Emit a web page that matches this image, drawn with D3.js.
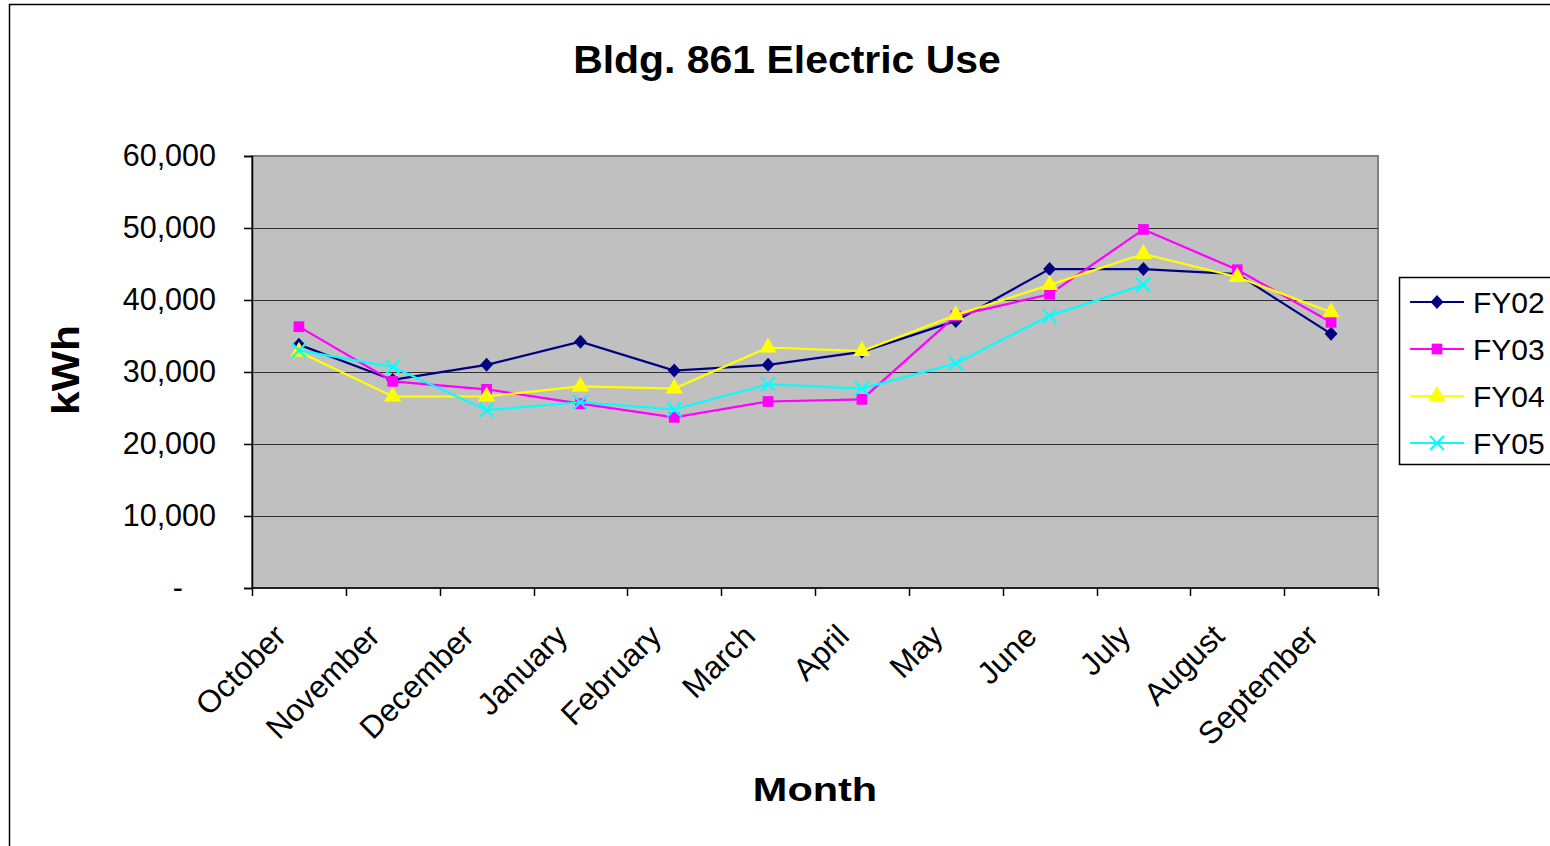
<!DOCTYPE html>
<html>
<head>
<meta charset="utf-8">
<script src="https://cdn.jsdelivr.net/npm/d3@7"></script>
<style>
  html, body { margin: 0; padding: 0; background: #fff; }
  svg { display: block; }
  text { font-family: "Liberation Sans", Arial, sans-serif; fill: #000; }
</style>
</head>
<body>
<svg id="chart" width="1550" height="846"></svg>
<script>
// Monthly electric use, fiscal year runs October → September
const months = ["October", "November", "December", "January", "February", "March",
                "April", "May", "June", "July", "August", "September"];
const seriesNames = ["FY02", "FY03", "FY04", "FY05"];
const fy02 = [33800, 28900, 31000, 34200, 30200, 31000, 32800, 37100, 44300, 44300, 43600, 35300];
const fy03 = [36300, 28700, 27600, 25600, 23700, 25900, 26200, 37800, 40800, 49800, 44200, 36900];
const fy04 = [32800, 26600, 26600, 28000, 27700, 33400, 32900, 37900, 42100, 46400, 43200, 38300];
const fy05 = [33000, 30700, 24700, 25800, 24800, 28300, 27700, 31200, 37800, 42100];
const yTicks = [0, 10000, 20000, 30000, 40000, 50000, 60000];

const seriesValues = [fy02, fy03, fy04, fy05];
const colors = ["#000080", "#FF00FF", "#FFFF00", "#00FFFF"];

// a nearly square diamond, slightly taller than wide
const squatDiamond = {
  draw(ctx, size) {
    const h = Math.sqrt(size / 2);
    const w = h * 0.92;
    ctx.moveTo(0, -h);
    ctx.lineTo(w, 0);
    ctx.lineTo(0, h);
    ctx.lineTo(-w, 0);
    ctx.closePath();
  }
};
const symbols = [squatDiamond, d3.symbolSquare, d3.symbolTriangle, d3.symbolX];
const symSize = [98, 115, 130, 130];

const svg = d3.select("#chart");

// outer chart frame
svg.append("rect")
  .attr("x", 9.5).attr("y", 4.5).attr("width", 1600).attr("height", 900)
  .attr("fill", "#fff").attr("stroke", "#000").attr("stroke-width", 1.5);

const plot = { left: 252, top: 156, right: 1378, bottom: 588 };

const x = d3.scaleBand().domain(months).range([plot.left, plot.right]);
const y = d3.scaleLinear().domain([0, 60000]).range([plot.bottom, plot.top]);
const cx = m => x(m) + x.bandwidth() / 2;

// plot area background
svg.append("rect")
  .attr("x", plot.left).attr("y", plot.top)
  .attr("width", plot.right - plot.left).attr("height", plot.bottom - plot.top)
  .attr("fill", "#C0C0C0").attr("stroke", "#808080").attr("stroke-width", 2);

// horizontal gridlines
svg.append("g")
  .selectAll("line")
  .data(yTicks.filter(d => d > 0 && d < 60000))
  .join("line")
  .attr("x1", plot.left).attr("x2", plot.right)
  .attr("y1", d => Math.round(y(d)) + 0.5).attr("y2", d => Math.round(y(d)) + 0.5)
  .attr("stroke", "#303030").attr("stroke-width", 1.2);

// y axis
const yAxis = svg.append("g")
  .attr("transform", `translate(${plot.left},0)`)
  .call(d3.axisLeft(y).tickValues(yTicks)
    .tickFormat(d => d === 0 ? "-" : d3.format(",")(d))
    .tickSizeOuter(0).tickSize(8).tickPadding(28));
yAxis.select(".domain").attr("stroke", "#000").attr("stroke-width", 1.5);
yAxis.selectAll(".tick line").attr("stroke", "#000").attr("stroke-width", 1.5);
yAxis.selectAll(".tick text")
  .attr("font-size", 30.5).attr("font-family", null)
  .attr("fill", "#000");
yAxis.selectAll(".tick text").filter(d => d === 0).attr("x", -69);

// x axis: ticks between categories
const boundaries = months.map(m => x(m)).concat([plot.right]);
svg.append("line")
  .attr("x1", plot.left).attr("x2", plot.right)
  .attr("y1", plot.bottom).attr("y2", plot.bottom)
  .attr("stroke", "#000").attr("stroke-width", 1.5);
svg.append("g").selectAll("line")
  .data(boundaries).join("line")
  .attr("x1", d => Math.round(d) + 0.5).attr("x2", d => Math.round(d) + 0.5)
  .attr("y1", plot.bottom).attr("y2", plot.bottom + 8)
  .attr("stroke", "#000").attr("stroke-width", 1.5);

svg.append("g").selectAll("text")
  .data(months).join("text")
  .attr("transform", d => `translate(${cx(d) - 11},${plot.bottom + 50}) rotate(-45)`)
  .attr("text-anchor", "end")
  .attr("font-size", 31.5)
  .text(d => d);

// series lines and markers
const line = d3.line()
  .x((d, i) => cx(months[i]))
  .y(d => y(d));

seriesValues.forEach((vals, s) => {
  const g = svg.append("g");
  g.append("path")
    .attr("d", line(vals))
    .attr("fill", "none")
    .attr("stroke", colors[s])
    .attr("stroke-width", 2.2);
  g.selectAll("path.mark")
    .data(vals).join("path")
    .attr("class", "mark")
    .attr("transform", (d, i) => `translate(${cx(months[i])},${y(d)})`)
    .attr("d", d3.symbol().type(symbols[s]).size(symSize[s]))
    .attr("fill", s === 3 ? "none" : colors[s])
    .attr("stroke", colors[s])
    .attr("stroke-width", s === 3 ? 2.2 : 0);
});

// legend
const legend = svg.append("g");
legend.append("rect")
  .attr("x", 1399.5).attr("y", 277.5).attr("width", 200).attr("height", 187)
  .attr("fill", "#fff").attr("stroke", "#000").attr("stroke-width", 1.5);
seriesNames.forEach((name, s) => {
  const ly = 302 + s * 47;
  legend.append("line")
    .attr("x1", 1410).attr("x2", 1464).attr("y1", ly).attr("y2", ly)
    .attr("stroke", colors[s]).attr("stroke-width", 2.2);
  legend.append("path")
    .attr("transform", `translate(1437,${ly})`)
    .attr("d", d3.symbol().type(symbols[s]).size(symSize[s]))
    .attr("fill", s === 3 ? "none" : colors[s])
    .attr("stroke", colors[s])
    .attr("stroke-width", s === 3 ? 2.2 : 0);
  legend.append("text")
    .attr("x", 1473).attr("y", ly + 11)
    .attr("font-size", 30)
    .text(name);
});

// titles
svg.append("text")
  .attr("transform", "translate(787,73) scale(1.05,1)")
  .attr("text-anchor", "middle")
  .attr("font-size", 39).attr("font-weight", "bold")
  .text("Bldg. 861 Electric Use");

svg.append("text")
  .attr("transform", "translate(815,801) scale(1.22,1)")
  .attr("text-anchor", "middle")
  .attr("font-size", 34).attr("font-weight", "bold")
  .text("Month");

svg.append("text")
  .attr("transform", "translate(79,370) rotate(-90) scale(1.12,1)")
  .attr("text-anchor", "middle")
  .attr("font-size", 38).attr("font-weight", "bold")
  .text("kWh");
</script>
</body>
</html>
